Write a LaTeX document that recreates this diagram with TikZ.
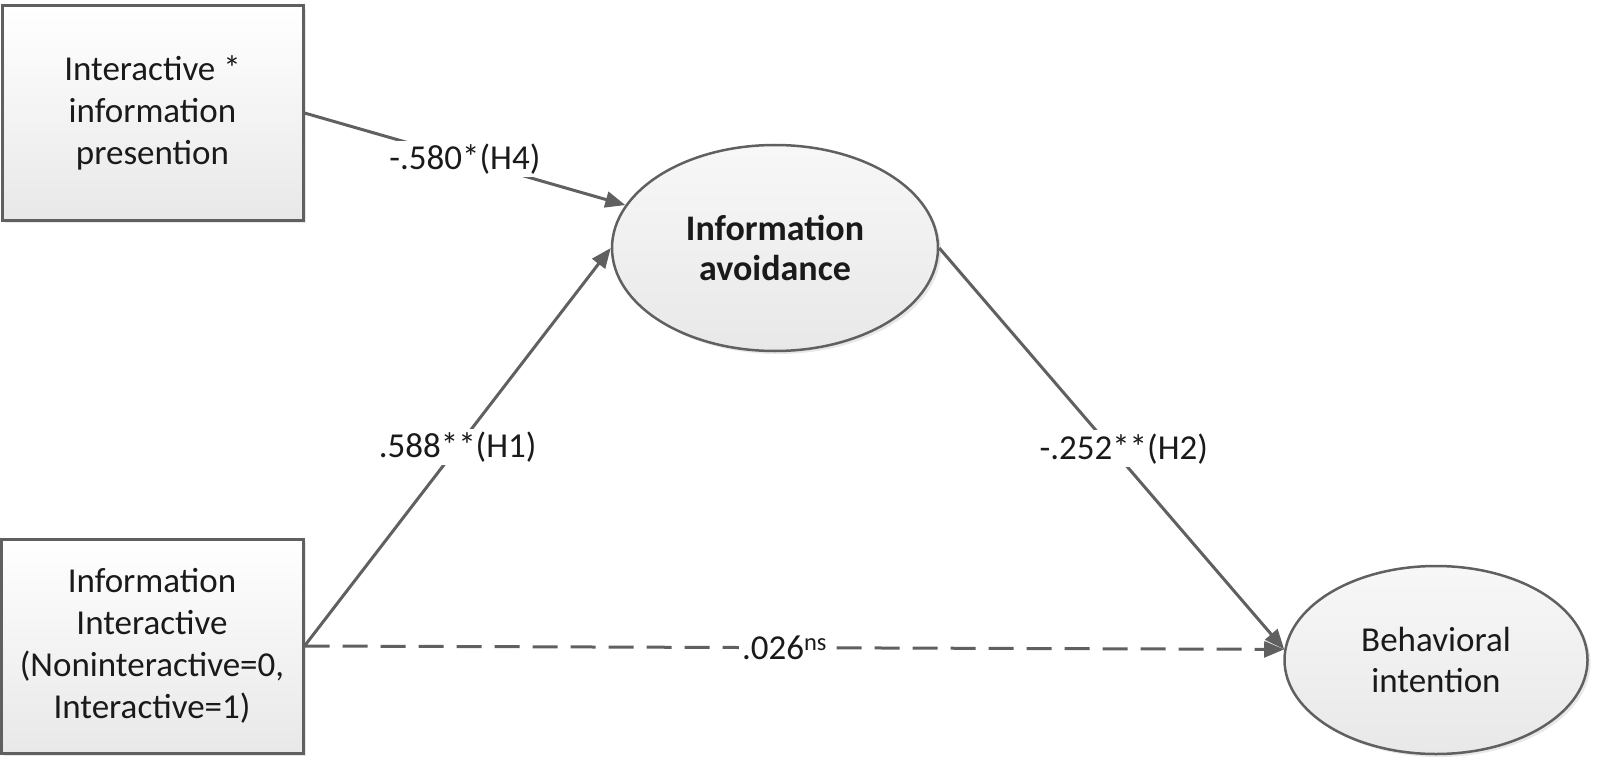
\documentclass[tikz,border=0pt]{standalone}
\usepackage{fontspec}
\setmainfont{Carlito}
\usetikzlibrary{shapes.geometric,arrows.meta,shadows}
\definecolor{linegray}{HTML}{606060}
\definecolor{txt}{HTML}{1A1A1A}
\begin{document}
\begin{tikzpicture}[x=1pt,y=-1pt,
  boxstyle/.style={draw=linegray,line width=3pt,rectangle,top color=white,bottom color=black!9,
    drop shadow={shadow xshift=3pt,shadow yshift=-3pt,fill=black!18},
    align=center,font=\fontsize{35}{42}\selectfont,text=txt,inner sep=0pt},
  ellstyle/.style={draw=linegray,line width=2.5pt,ellipse,top color=black!3,bottom color=black!9,
    drop shadow={shadow xshift=3pt,shadow yshift=-3pt,fill=black!18},
    align=center,font=\fontsize{35}{41}\selectfont,text=txt,inner sep=0pt},
  conn/.style={draw=linegray,line width=3pt,-{Triangle[length=20pt,width=16pt]}},
  lab/.style={fill=white,text=txt,font=\fontsize{35}{40}\selectfont,inner sep=3pt}]
\useasboundingbox (0,0) rectangle (1600,762);
\node[boxstyle,minimum width=301pt,minimum height=214pt] (box1) at (152.5,113) {Interactive *\\information\\presention};
\node[boxstyle,minimum width=302pt,minimum height=214pt] (box2) at (152,646) {Information\\Interactive\\(Noninteractive=0,\\Interactive=1)};
\node[ellstyle,minimum width=326pt,minimum height=206pt,font=\fontsize{36}{40}\selectfont\bfseries] (ell1) at (775,248) {Information\\avoidance};
\node[ellstyle,minimum width=303pt,minimum height=188pt] (ell2) at (1436,660) {Behavioral\\intention};
\draw[conn] (box1.east) -- node[lab,pos=0.5] {-.580*(H4)} (ell1.164);
\draw[conn] (box2.east) -- node[lab,pos=0.5] {.588**(H1)} (ell1.180);
\draw[conn] (ell1.east) -- node[lab,pos=0.5,xshift=12pt] {-.252**(H2)} (ell2.176);
\draw[conn,dash pattern=on 25pt off 13pt] (box2.east) -- node[lab,pos=0.49] {.026\textsuperscript{ns}} (ell2.176);
\end{tikzpicture}
\end{document}
